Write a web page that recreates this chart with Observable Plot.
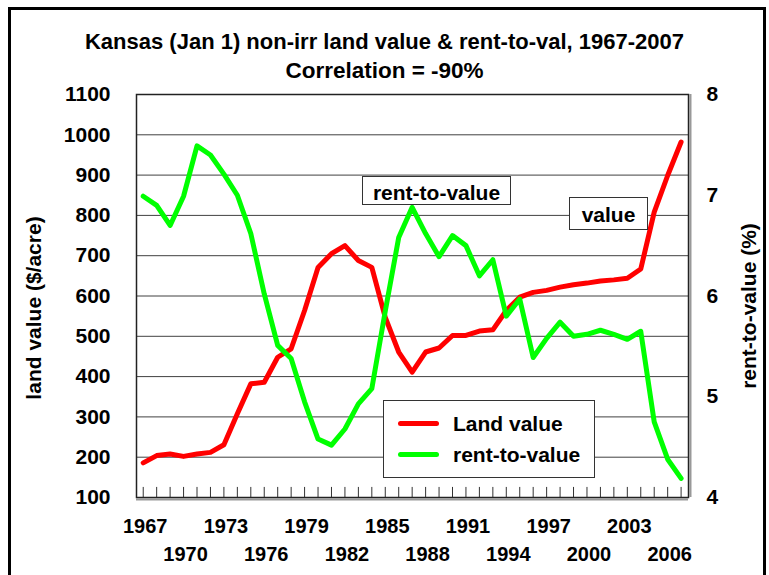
<!DOCTYPE html>
<html>
<head>
<meta charset="utf-8">
<script src="https://cdn.jsdelivr.net/npm/d3@7"></script>
<script src="https://cdn.jsdelivr.net/npm/@observablehq/plot@0.6"></script>
<style>
  html, body { margin: 0; padding: 0; background: #fff; overflow: hidden; }
  #wrap { position: relative; width: 769px; height: 575px; overflow: hidden;
          font-family: "Liberation Sans", Arial, sans-serif; font-weight: bold; color: #000; }
  #outer { position: absolute; left: 8px; top: 7px; width: 752px; height: 700px; border: 3px solid #000; pointer-events: none; }
  .t { position: absolute; white-space: nowrap; line-height: 1; }
  .box { position: absolute; background: #fff; border: 1.5px solid #333; box-sizing: border-box; }
  .rot { position: absolute; white-space: nowrap; line-height: 1; transform: translate(-50%, -50%) rotate(-90deg); }
</style>
</head>
<body>
<div id="wrap">
  <div id="chart"></div>
  <div id="outer"></div>
</div>
<script>
// ---- data ----
const years = [1967,1968,1969,1970,1971,1972,1973,1974,1975,1976,1977,1978,1979,1980,1981,
  1982,1983,1984,1985,1986,1987,1988,1989,1990,1991,1992,1993,1994,
  1995,1996,1997,1998,1999,2000,2001,2002,2003,2004,2005,2006,2007];
const landValue = [186,204,208,202,208,212,231,308,382,386,448,469,564,671,705,
  725,688,671,547,461,411,461,471,502,502,513,516,564,
  597,609,614,622,628,632,637,640,644,667,808,899,982];
const rentToValue = [6.99,6.90,6.70,6.99,7.49,7.40,7.21,7.00,6.62,6.02,5.51,5.38,4.95,4.58,4.52,
  4.68,4.93,5.08,5.85,6.58,6.88,6.62,6.39,6.60,6.50,6.20,6.36,5.80,
  5.97,5.39,5.58,5.74,5.60,5.62,5.66,5.62,5.57,5.65,4.75,4.38,4.19];
const leftTicks = [100,200,300,400,500,600,700,800,900,1000,1100];
const rightTicks = [4,5,6,7,8];
const xLabelsRow1 = [1967,1973,1979,1985,1991,1997,2003];
const xLabelsRow2 = [1970,1976,1982,1988,1994,2000,2006];

const titleText = "Kansas (Jan 1) non-irr land value &amp; rent-to-val, 1967-2007";
const subtitleText = "Correlation = -90%";
const leftLabel = "land value ($/acre)";
const rightLabel = "rent-to-value (%)";
const seriesNames = ["Land value", "rent-to-value"];
const seriesColors = ["#ff0000", "#00ff00"];

// map right-axis values onto left scale
const rtvToY = v => 100 + (v - 4) * 250;
const yToRtv = y => String(Math.round(((y - 100) / 250 + 4) * 100) / 100);

const data = years.map((yr, i) => ({year: yr, land: landValue[i], rtv: rentToValue[i]}));

const chart = Plot.plot({
  width: 769,
  height: 575,
  marginTop: 94,
  marginBottom: 78,
  marginLeft: 136,
  marginRight: 81,
  style: {fontFamily: '"Liberation Sans", Arial, sans-serif', fontWeight: "bold", fontSize: "21px", color: "#000", background: "transparent"},
  x: {domain: [1966.5, 2007.55], axis: null},
  y: {domain: [100, 1100], axis: null},
  marks: [
    Plot.gridY(leftTicks.filter(d => d > 100 && d < 1100), {stroke: "#000", strokeOpacity: 0.75, strokeWidth: 1}),
    Plot.ruleX(years, {x: d => d, y1: 100, y2: 125, stroke: "#333", strokeWidth: 1}),
    Plot.line(data, {x: "year", y: "land", stroke: seriesColors[0], strokeWidth: 5, strokeLinejoin: "round", strokeLinecap: "round"}),
    Plot.line(data, {x: "year", y: d => rtvToY(d.rtv), stroke: seriesColors[1], strokeWidth: 5, strokeLinejoin: "round", strokeLinecap: "round"}),
    Plot.ruleY([100], {stroke: "#999", strokeWidth: 2, dy: 2}),
    Plot.ruleX([2007.55], {stroke: "#999", strokeWidth: 2, dx: 2}),
    Plot.frame({stroke: "#222", strokeWidth: 1.5}),
    Plot.axisY(leftTicks, {anchor: "left", tickSize: 0, tickPadding: 26, label: null, fontSize: 21, tickFormat: d => String(d)}),
    Plot.axisY(rightTicks.map(rtvToY), {anchor: "right", tickSize: 0, tickPadding: 18, label: null, fontSize: 21, tickFormat: yToRtv}),
    Plot.text(xLabelsRow1, {x: d => d, text: d => String(d), frameAnchor: "bottom", dy: 29, dx: 2, lineAnchor: "middle", fontSize: 20}),
    Plot.text(xLabelsRow2, {x: d => d, text: d => String(d), frameAnchor: "bottom", dy: 57, dx: 2, lineAnchor: "middle", fontSize: 20})
  ]
});
document.getElementById("chart").appendChild(chart);

// ---- overlay text ----
const wrap = document.getElementById("wrap");
function add(html, cls, style) {
  const d = document.createElement("div");
  d.className = cls;
  d.innerHTML = html;
  Object.assign(d.style, style);
  wrap.appendChild(d);
  return d;
}
// title & subtitle (centered)
add(titleText, "t", {left: "0", width: "769px", textAlign: "center", top: "31px", fontSize: "22px"});
add(subtitleText, "t", {left: "0", width: "769px", textAlign: "center", top: "60px", fontSize: "22.5px"});
// axis titles
add(leftLabel, "rot", {left: "33px", top: "308px", fontSize: "21px"});
add(rightLabel, "rot", {left: "748px", top: "306px", fontSize: "21px"});
// annotation boxes
add(`<div class="t" style="position:static;text-align:center;font-size:21px;padding-top:5px">${seriesNames[1]}</div>`, "box",
    {left: "362px", top: "176px", width: "149px", height: "29px"});
add(`<div class="t" style="position:static;text-align:center;font-size:21px;padding-top:6px">value</div>`, "box",
    {left: "569px", top: "197px", width: "79px", height: "33px"});
// legend
const leg = add("", "box", {left: "383px", top: "400px", width: "212px", height: "78px"});
seriesNames.forEach((name, i) => {
  const row = document.createElement("div");
  Object.assign(row.style, {position: "absolute", left: "0", top: (i === 0 ? 12 : 43) + "px", height: "21px", width: "210px"});
  row.innerHTML = `<div style="position:absolute;left:14px;top:8px;width:41px;height:5px;border-radius:3px;background:${seriesColors[i]}"></div>` +
    `<div class="t" style="position:absolute;left:69px;top:0;font-size:21px">${name}</div>`;
  leg.appendChild(row);
});
</script>
</body>
</html>
